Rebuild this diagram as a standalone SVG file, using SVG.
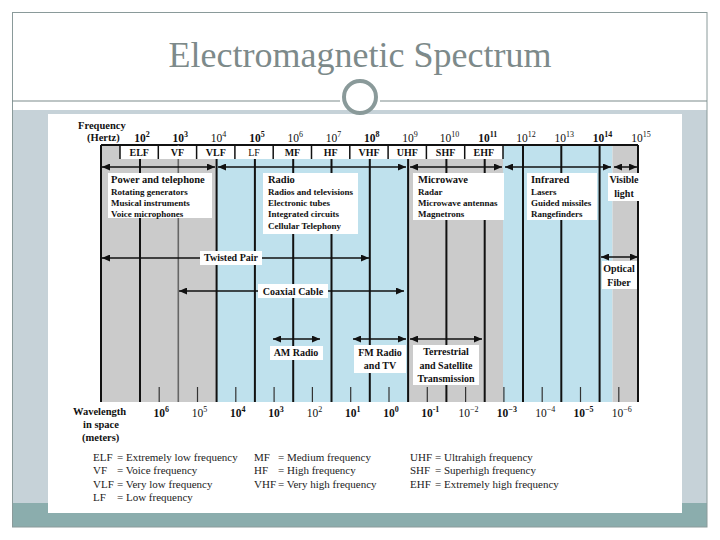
<svg xmlns="http://www.w3.org/2000/svg" width="720" height="540" viewBox="0 0 720 540">
<style>
.t{font-family:"Liberation Serif","Times New Roman",serif;fill:#111}
.b{font-weight:bold}
.fq{font-size:11.5px;text-anchor:middle}
.cell{font-size:10px;font-weight:bold;text-anchor:middle}
.hd{font-size:10.5px;font-weight:bold}
.it{font-size:9px;font-weight:bold}
.lb{font-size:10px;font-weight:bold;text-anchor:middle}
.lg{font-size:11px;fill:#222}
.pl{stroke:#111;stroke-width:2}
.tk{stroke:#333;stroke-width:1.2}
.box{fill:#fff}
.ar{stroke:#111;stroke-width:1.5;fill:none;marker-start:url(#ah);marker-end:url(#ah)}
</style>
<defs>
<marker id="ah" markerUnits="userSpaceOnUse" markerWidth="8" markerHeight="7" refX="8" refY="3.5" orient="auto-start-reverse">
<path d="M0,0 L8,3.5 L0,7 z" fill="#111"/>
</marker>
</defs>
<rect width="720" height="540" fill="#fff"/>
<g id="frame">
<rect x="12" y="110" width="695" height="393" fill="#c6d2d8"/>
<rect x="12" y="503" width="695" height="24" fill="#8badad"/>
<rect x="12.5" y="12.5" width="694.5" height="514.5" fill="none" stroke="#8a9a9a" stroke-width="1"/>
<line x1="12" y1="101" x2="340" y2="101" stroke="#7d8b8b" stroke-width="1.2"/>
<line x1="380" y1="101" x2="707" y2="101" stroke="#7d8b8b" stroke-width="1.2"/>
<rect x="48" y="114" width="634" height="399" fill="#fff"/>
<circle cx="360" cy="97" r="16" fill="#fff" stroke="#8a9a9a" stroke-width="4"/>
</g>
<g id="title">
<text x="360" y="67" text-anchor="middle" font-family="Liberation Serif,Times New Roman,serif" font-size="36" fill="#7d8a8a">Electromagnetic Spectrum</text>
</g>
<g id="chart">
<rect x="101" y="145" width="115.6" height="257" fill="#cbcbcb"/>
<rect x="216.6" y="145" width="191.5" height="257" fill="#bfe1ed"/>
<rect x="408.1" y="145" width="94.9" height="257" fill="#cbcbcb"/>
<rect x="503" y="145" width="109.5" height="257" fill="#bfe1ed"/>
<rect x="612.5" y="145" width="25.5" height="257" fill="#cbcbcb"/>
<g class="pl">
<line x1="101" y1="145" x2="101" y2="402"/>
<line x1="140" y1="145" x2="140" y2="402"/>
<line x1="216.6" y1="145" x2="216.6" y2="402"/>
<line x1="254.9" y1="145" x2="254.9" y2="402"/>
<line x1="293.2" y1="145" x2="293.2" y2="402"/>
<line x1="331.5" y1="145" x2="331.5" y2="402"/>
<line x1="369.8" y1="145" x2="369.8" y2="402"/>
<line x1="408.1" y1="145" x2="408.1" y2="402"/>
<line x1="446.4" y1="145" x2="446.4" y2="402"/>
<line x1="484.7" y1="145" x2="484.7" y2="402"/>
<line x1="523" y1="145" x2="523" y2="402"/>
<line x1="561.3" y1="145" x2="561.3" y2="402"/>
<line x1="599.6" y1="145" x2="599.6" y2="402"/>
<line x1="638" y1="145" x2="638" y2="402"/>
<line x1="101" y1="145" x2="638" y2="145"/>
</g>
<line x1="178.3" y1="145" x2="178.3" y2="402" stroke="#666" stroke-width="1.6"/>
<g class="tk">
<line x1="159.2" y1="387" x2="159.2" y2="402"/>
<line x1="197.5" y1="387" x2="197.5" y2="402"/>
<line x1="235.8" y1="387" x2="235.8" y2="402"/>
<line x1="274.1" y1="387" x2="274.1" y2="402"/>
<line x1="312.4" y1="387" x2="312.4" y2="402"/>
<line x1="350.7" y1="387" x2="350.7" y2="402"/>
<line x1="389" y1="387" x2="389" y2="402"/>
<line x1="427.3" y1="387" x2="427.3" y2="402"/>
<line x1="465.6" y1="387" x2="465.6" y2="402"/>
<line x1="503.9" y1="387" x2="503.9" y2="402"/>
<line x1="542.2" y1="387" x2="542.2" y2="402"/>
<line x1="580.5" y1="387" x2="580.5" y2="402"/>
<line x1="618.8" y1="387" x2="618.8" y2="402"/>
</g>
</g>
<g id="band-cells">
<rect x="120" y="146" width="383" height="13" fill="#fff"/>
<g stroke="#111" stroke-width="1.5">
<line x1="120" y1="145" x2="120" y2="159"/>
<line x1="158.3" y1="145" x2="158.3" y2="159"/>
<line x1="196.6" y1="145" x2="196.6" y2="159"/>
<line x1="234.9" y1="145" x2="234.9" y2="159"/>
<line x1="273.2" y1="145" x2="273.2" y2="159"/>
<line x1="311.5" y1="145" x2="311.5" y2="159"/>
<line x1="349.8" y1="145" x2="349.8" y2="159"/>
<line x1="388.1" y1="145" x2="388.1" y2="159"/>
<line x1="426.4" y1="145" x2="426.4" y2="159"/>
<line x1="464.7" y1="145" x2="464.7" y2="159"/>
<line x1="503" y1="145" x2="503" y2="159"/>
</g>
<g class="t cell">
<text x="139.2" y="156">ELF</text>
<text x="177.5" y="156">VF</text>
<text x="215.8" y="156">VLF</text>
<text x="254.1" y="156" font-weight="normal">LF</text>
<text x="292.4" y="156">MF</text>
<text x="330.7" y="156">HF</text>
<text x="369" y="156">VHF</text>
<text x="407.3" y="156">UHF</text>
<text x="445.6" y="156">SHF</text>
<text x="483.9" y="156">EHF</text>
</g>
</g>
<g id="frequency-axis" class="t">
<text x="78" y="129" class="hd">Frequency</text>
<text x="87" y="141" class="hd">(Hertz)</text>
<g class="fq">
<text x="142" y="142" class="b">10<tspan dy="-5" font-size="8">2</tspan></text>
<text x="180.3" y="142" class="b">10<tspan dy="-5" font-size="8">3</tspan></text>
<text x="218.6" y="142">10<tspan dy="-5" font-size="8">4</tspan></text>
<text x="256.9" y="142" class="b">10<tspan dy="-5" font-size="8">5</tspan></text>
<text x="295.2" y="142">10<tspan dy="-5" font-size="8">6</tspan></text>
<text x="333.5" y="142">10<tspan dy="-5" font-size="8">7</tspan></text>
<text x="371.8" y="142" class="b">10<tspan dy="-5" font-size="8">8</tspan></text>
<text x="410.1" y="142">10<tspan dy="-5" font-size="8">9</tspan></text>
<text x="449.4" y="142">10<tspan dy="-5" font-size="8">10</tspan></text>
<text x="487.7" y="142" class="b">10<tspan dy="-5" font-size="8">11</tspan></text>
<text x="526" y="142">10<tspan dy="-5" font-size="8">12</tspan></text>
<text x="564.3" y="142">10<tspan dy="-5" font-size="8">13</tspan></text>
<text x="602.6" y="142" class="b">10<tspan dy="-5" font-size="8">14</tspan></text>
<text x="641" y="142">10<tspan dy="-5" font-size="8">15</tspan></text>
</g>
</g>
<g id="wavelength-axis" class="t">
<text x="73" y="415" class="hd">Wavelength</text>
<text x="83" y="428" class="hd">in space</text>
<text x="82" y="441" class="hd" font-weight="normal">(meters)</text>
<g class="fq">
<text x="161.2" y="417" class="b">10<tspan dy="-5" font-size="8">6</tspan></text>
<text x="199.5" y="417">10<tspan dy="-5" font-size="8">5</tspan></text>
<text x="237.8" y="417" class="b">10<tspan dy="-5" font-size="8">4</tspan></text>
<text x="276.1" y="417" class="b">10<tspan dy="-5" font-size="8">3</tspan></text>
<text x="314.4" y="417">10<tspan dy="-5" font-size="8">2</tspan></text>
<text x="352.7" y="417" class="b">10<tspan dy="-5" font-size="8">1</tspan></text>
<text x="391" y="417" class="b">10<tspan dy="-5" font-size="8">0</tspan></text>
<text x="430.3" y="417" class="b">10<tspan dy="-5" font-size="8">-1</tspan></text>
<text x="468.6" y="417">10<tspan dy="-5" font-size="8">−2</tspan></text>
<text x="506.9" y="417" class="b">10<tspan dy="-5" font-size="8">−3</tspan></text>
<text x="545.2" y="417">10<tspan dy="-5" font-size="8">−4</tspan></text>
<text x="583.5" y="417" class="b">10<tspan dy="-5" font-size="8">−5</tspan></text>
<text x="621.8" y="417">10<tspan dy="-5" font-size="8">−6</tspan></text>
</g>
</g>
<g id="connectors">
<line class="ar" x1="102" y1="167" x2="215" y2="167"/>
<line class="ar" x1="218" y1="167" x2="406" y2="167"/>
<line class="ar" x1="410" y1="167" x2="502" y2="167"/>
<line class="ar" x1="505" y1="167" x2="611" y2="167"/>
<line class="ar" x1="614" y1="167" x2="637" y2="167"/>
<line class="ar" x1="102" y1="258" x2="369" y2="258"/>
<line class="ar" x1="179" y1="291" x2="404" y2="291"/>
<line class="ar" x1="273" y1="339" x2="320" y2="339"/>
<line class="ar" x1="353" y1="339" x2="406" y2="339"/>
<line class="ar" x1="410" y1="339" x2="482" y2="339"/>
<line class="ar" x1="601" y1="257" x2="638" y2="257"/>
</g>
<g id="power-and-telephone" class="t">
<rect class="box" x="108" y="173" width="104" height="45"/>
<text x="111" y="183" class="hd">Power and telephone</text>
<text x="111" y="195" class="it">Rotating generators</text>
<text x="111" y="206" class="it">Musical instruments</text>
<text x="111" y="217" class="it">Voice microphones</text>
</g>
<g id="radio" class="t">
<rect class="box" x="263" y="173" width="95" height="61"/>
<text x="268" y="183" class="hd">Radio</text>
<text x="268" y="195" class="it">Radios and televisions</text>
<text x="268" y="206" class="it">Electronic tubes</text>
<text x="268" y="217" class="it">Integrated circuits</text>
<text x="268" y="229" class="it">Cellular Telephony</text>
</g>
<g id="microwave" class="t">
<rect class="box" x="413" y="173" width="91" height="47"/>
<text x="418" y="183" class="hd">Microwave</text>
<text x="418" y="195" class="it">Radar</text>
<text x="418" y="206" class="it">Microwave antennas</text>
<text x="418" y="217" class="it">Magnetrons</text>
</g>
<g id="infrared" class="t">
<rect class="box" x="527" y="173" width="70" height="47"/>
<text x="531" y="183" class="hd">Infrared</text>
<text x="531" y="195" class="it">Lasers</text>
<text x="531" y="206" class="it">Guided missiles</text>
<text x="531" y="217" class="it">Rangefinders</text>
</g>
<g id="visible-light" class="t">
<rect class="box" x="608" y="173" width="31" height="28"/>
<text x="624" y="183" class="lb">Visible</text>
<text x="624" y="197" class="lb">light</text>
</g>
<g id="twisted-pair" class="t">
<rect class="box" x="200" y="251" width="62" height="14"/>
<text x="231" y="261" class="lb">Twisted Pair</text>
</g>
<g id="coaxial-cable" class="t">
<rect class="box" x="258" y="284" width="70" height="14"/>
<text x="293" y="295" class="lb">Coaxial Cable</text>
</g>
<g id="am-radio" class="t">
<rect class="box" x="270" y="346" width="53" height="14"/>
<text x="296" y="356" class="lb">AM Radio</text>
</g>
<g id="fm-radio" class="t">
<rect class="box" x="354" y="345" width="52" height="28"/>
<text x="380" y="356" class="lb">FM Radio</text>
<text x="380" y="369" class="lb">and TV</text>
</g>
<g id="terrestrial" class="t">
<rect class="box" x="413" y="345" width="66" height="40"/>
<text x="446" y="355" class="lb">Terrestrial</text>
<text x="446" y="369" class="lb">and Satellite</text>
<text x="446" y="382" class="lb" font-weight="normal">Transmission</text>
</g>
<g id="optical-fiber" class="t">
<rect class="box" x="602" y="261" width="35" height="28"/>
<text x="619" y="272" class="lb">Optical</text>
<text x="619" y="286" class="lb">Fiber</text>
</g>
<g id="legend" class="t lg">
<text x="93" y="461">ELF</text><text x="117" y="461">= Extremely low frequency</text>
<text x="93" y="474">VF</text><text x="117" y="474">= Voice frequency</text>
<text x="93" y="488">VLF</text><text x="117" y="488">= Very low frequency</text>
<text x="93" y="501">LF</text><text x="117" y="501">= Low frequency</text>
<text x="254" y="461">MF</text><text x="278" y="461">= Medium frequency</text>
<text x="254" y="474">HF</text><text x="278" y="474">= High frequency</text>
<text x="254" y="488">VHF</text><text x="278" y="488">= Very high frequency</text>
<text x="410" y="461">UHF</text><text x="435" y="461">= Ultrahigh frequency</text>
<text x="410" y="474">SHF</text><text x="435" y="474">= Superhigh frequency</text>
<text x="410" y="488">EHF</text><text x="435" y="488">= Extremely high frequency</text>
</g>
</svg>
